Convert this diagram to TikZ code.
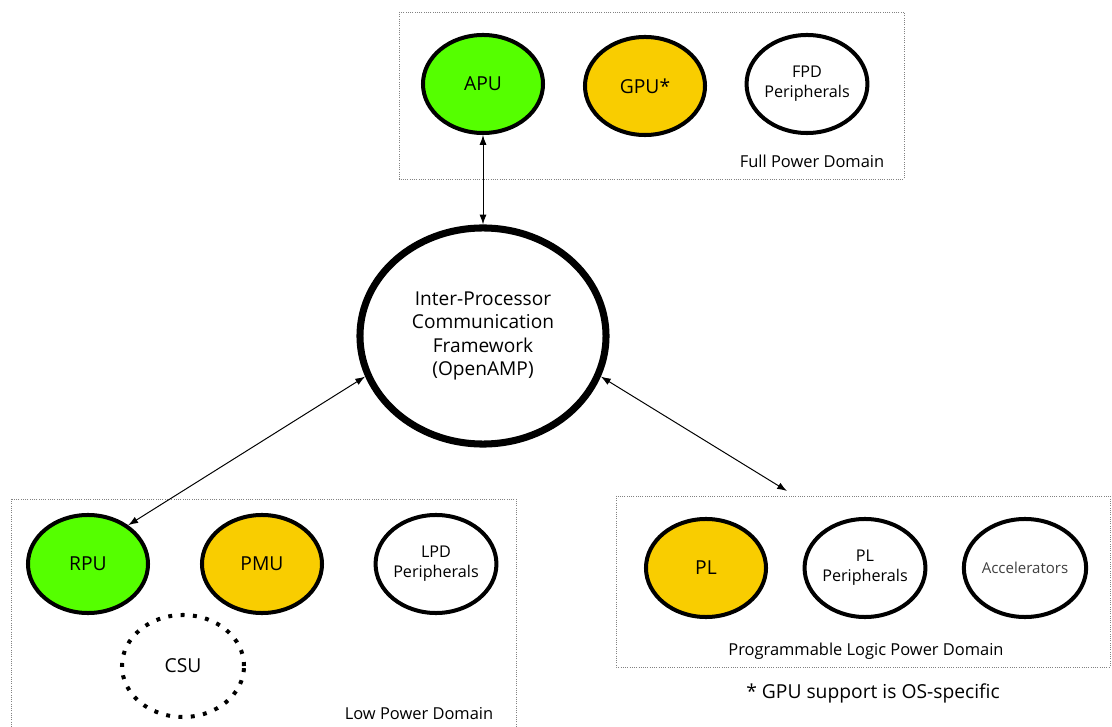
\documentclass[tikz,border=0pt]{standalone}
\usepackage{fontspec}
\setmainfont{Open Sans}
\usepackage{tikz}
\usetikzlibrary{shapes.geometric}
\usetikzlibrary{arrows.meta}

\definecolor{unitgreen}{RGB}{85,255,0}
\definecolor{unitgold}{RGB}{249,205,0}
\definecolor{domainline}{RGB}{130,130,130}

\tikzset{
	unit/.style = {ellipse, draw, line width = 2.85pt, minimum width=3cm, minimum height=2.45cm, inner sep=0pt, align = center, font=\fontsize{13.7}{16.4}\selectfont},
	periph/.style = {unit, font=\fontsize{11.5}{14}\selectfont},
	pdbox/.style = {draw = domainline, densely dotted, line width = 0.6pt},
	pdlabel/.style = {font=\fontsize{11.7}{14}\selectfont},
	link/.style = {{Latex[length=7pt,width=5pt]}-{Latex[length=7pt,width=5pt]}, line width = 0.7pt}
}

\begin{document}
\begin{tikzpicture}[x=0.025cm, y=-0.025cm]
		\useasboundingbox (0,0) rectangle (1112,727);

		\draw[pdbox] (399,12) rectangle (904,179);
		\draw[pdbox] (11,499) rectangle (516,735);
		\draw[pdbox] (616,496) rectangle (1110,667);

		\node[unit, fill = unitgreen] (apu) at (483,84) {APU};
		\node[unit, fill = unitgold] (gpu) at (645,86) {GPU*};
		\node[periph, fill = white] (fpd) at (807,84) {FPD\\Peripherals};
		\node[pdlabel] (fpdlabel) at (812,161) {Full Power Domain};

		\node[ellipse, draw, line width = 5pt, minimum width=6.15cm, minimum height=5.4cm, align = center, font=\fontsize{13.6}{16.4}\selectfont] (ipc) at (483,336) {Inter-Processor\\Communication\\Framework\\(OpenAMP)};

		\node[unit, fill = unitgreen] (rpu) at (88,564) {RPU};
		\node[unit, fill = unitgold] (pmu) at (262,564) {PMU};
		\node[periph, fill = white] (lpd) at (436,564) {LPD\\Peripherals};
		\node[unit, dash pattern = on 2.8pt off 6pt, minimum width=3.05cm, minimum height=2.55cm] (csu) at (183,666) {CSU};
		\node[pdlabel] (lpdlabel) at (419,714) {Low Power Domain};

		\node[unit, fill = unitgold] (pl) at (706,568) {PL};
		\node[periph, fill = white] (plp) at (865,568) {PL\\Peripherals};
		\node[unit, font=\fontsize{10.7}{13}\selectfont, text = black!75] (acc) at (1025,568) {Accelerators};
		\node[pdlabel] (pllabel) at (866,651) {Programmable Logic Power Domain};

		\node[font=\fontsize{13.7}{16}\selectfont] (note) at (873,693) {* GPU support is OS-specific};

		\coordinate (pltop) at (787,491);

		\draw[link] (apu) -- (ipc);
		\draw[link] (ipc.199) -- (rpu.44);
		\draw[link] (ipc.341) -- (pltop);

	\end{tikzpicture}
\end{document}
